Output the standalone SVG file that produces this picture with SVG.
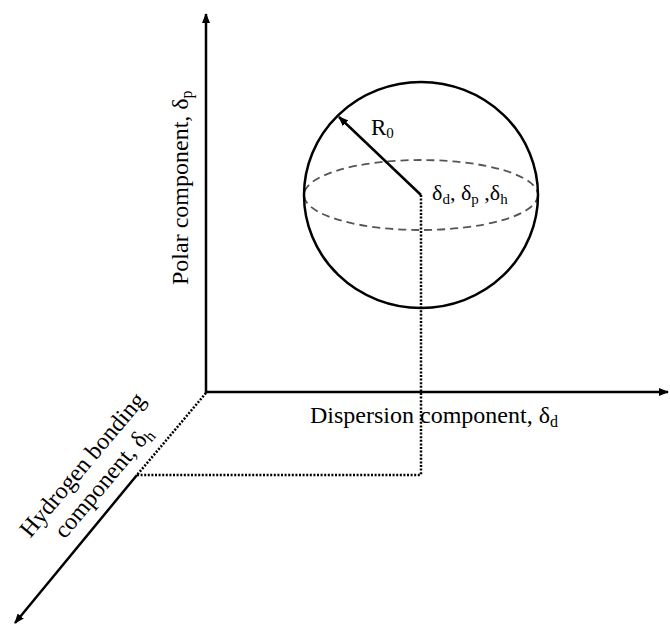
<svg xmlns="http://www.w3.org/2000/svg" width="670" height="626" viewBox="0 0 670 626">
  <style>
    .axis { stroke: #000; stroke-width: 2.5; fill: none; }
    .dot { stroke: #000; stroke-width: 2.5; fill: none; stroke-dasharray: 2 1.6; }
    .lbl { font-family: "Liberation Serif", "Times New Roman", serif; font-size: 24px; fill: #000; }
    .sub { font-size: 16px; }
  </style>
  <defs>
    <marker id="arr" viewBox="0 0 10 8" refX="9" refY="4" markerWidth="10" markerHeight="8" markerUnits="userSpaceOnUse" orient="auto">
      <path d="M0,0 L10,4 L0,8 z" fill="#000"/>
    </marker>
  </defs>
  <rect width="670" height="626" fill="#fff"/>

  <g id="connectors">
    <line class="axis" x1="206" y1="393.2" x2="206" y2="14" marker-end="url(#arr)"/>
    <line class="axis" x1="206" y1="392" x2="668" y2="392" marker-end="url(#arr)"/>
    <line class="dot" x1="206" y1="393" x2="137" y2="475"/>
    <line class="axis" x1="137" y1="475" x2="15" y2="623" marker-end="url(#arr)"/>
    <line class="dot" x1="137" y1="475" x2="421" y2="475"/>
    <line class="dot" x1="421" y1="195" x2="421" y2="475"/>
  </g>

  <g id="sphere">
    <ellipse cx="421" cy="195" rx="117" ry="35" fill="none" stroke="#555" stroke-width="1.8" stroke-dasharray="8 5"/>
    <ellipse cx="421" cy="195" rx="117" ry="113" fill="none" stroke="#000" stroke-width="2.5"/>
    <line class="axis" x1="421" y1="195" x2="339" y2="117" marker-end="url(#arr)"/>
    <text class="lbl" x="371" y="135" style="font-size:23px">R<tspan dy="3" style="font-size:15px">0</tspan></text>
    <text class="lbl" x="432" y="200" style="font-size:22px">δ<tspan dy="4" style="font-size:15px">d</tspan><tspan dy="-4">, δ</tspan><tspan dy="4" style="font-size:15px">p</tspan><tspan dy="-4"> ,δ</tspan><tspan dy="4" style="font-size:15px">h</tspan></text>
  </g>

  <g id="axis-labels">
    <text class="lbl" x="310" y="423">Dispersion component, δ<tspan class="sub" dy="4">d</tspan></text>
    <text class="lbl" transform="translate(188,285) rotate(-90)" x="0" y="0">Polar component, δ<tspan class="sub" dy="4">p</tspan></text>
    <g transform="translate(109,487) rotate(-50)">
      <text class="lbl" x="0" y="-27" text-anchor="middle">Hydrogen bonding</text>
      <text class="lbl" x="0" y="0" text-anchor="middle">component, δ<tspan class="sub" dy="4">h</tspan></text>
    </g>
  </g>
</svg>
